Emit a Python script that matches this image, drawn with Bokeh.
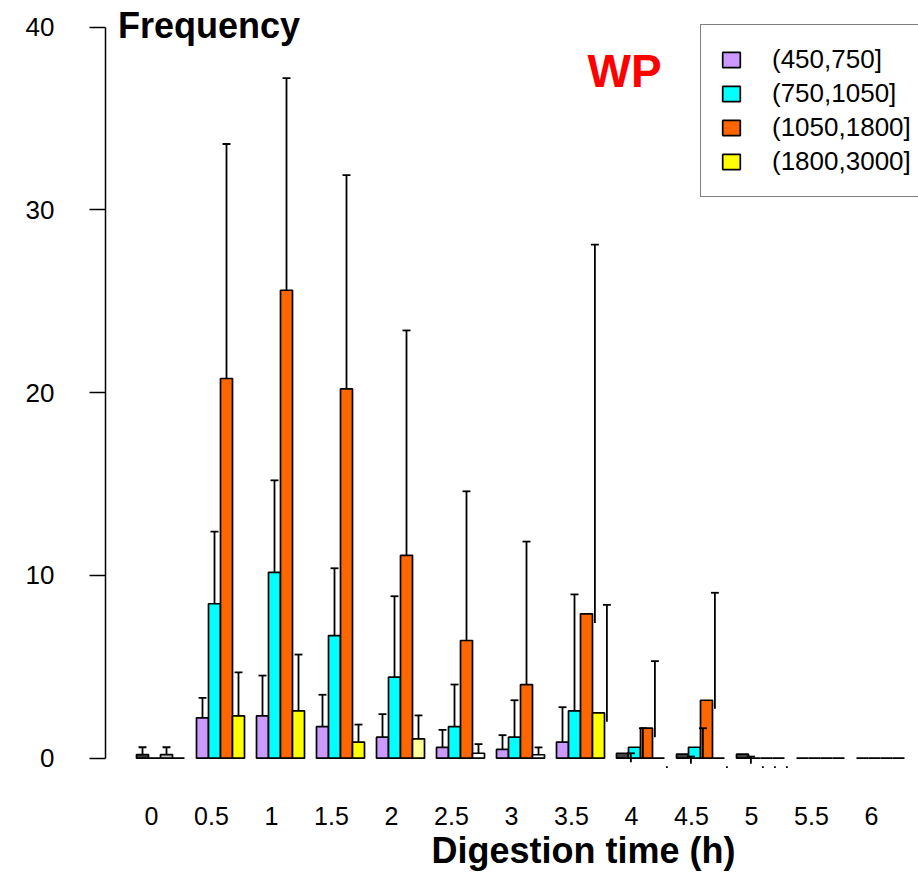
from bokeh.plotting import figure
from bokeh.models import ColumnDataSource, Legend, LegendItem, Label, FixedTicker
from bokeh.embed import file_html
from bokeh.resources import INLINE
from bokeh.core.properties import value

# ---------------- data ----------------
groups = ["0", "0.5", "1", "1.5", "2", "2.5", "3", "3.5", "4", "4.5", "5", "5.5", "6"]
series = ["(450,750]", "(750,1050]", "(1050,1800]", "(1800,3000]"]

mean_450 = [0.2, 2.21, 2.32, 1.73, 1.15, 0.59, 0.48, 0.88, 0.27, 0.22, 0.22, 0, 0]
mean_750 = [0, 8.45, 10.17, 6.71, 4.43, 1.73, 1.15, 2.59, 0.6, 0.6, 0, 0, 0]
mean_1050 = [0.2, 20.77, 25.6, 20.2, 11.1, 6.44, 4.03, 7.9, 1.64, 3.17, 0, 0, 0]
mean_1800 = [0, 2.32, 2.59, 0.88, 1.06, 0.27, 0.19, 2.48, 0, 0, 0, 0, 0]

upper_450 = [0.6, 3.30, 4.52, 3.47, 2.41, 1.55, 1.26, 2.79, 0.27, 0.09, 0.09, None, None]
upper_750 = [None, 12.4, 15.2, 10.39, 8.86, 4.03, 3.17, 8.96, 1.64, 1.64, -0.44, None, None]
upper_1050 = [0.6, 33.6, 37.2, 31.9, 23.4, 14.6, 11.85, 28.1, 5.31, 9.05, -0.44, None, None]
upper_1800 = [None, 4.70, 5.67, 1.84, 2.34, 0.77, 0.59, 8.39, -0.44, -0.44, -0.44, None, None]

lower_450 = [None] * 8 + [-0.22, -0.31, -0.30, None, None]
lower_750 = [None] * 8 + [0, 0, -0.54, None, None]
lower_1050 = [None] * 7 + [7.39, 1.15, 2.7, -0.54, None, None]
lower_1800 = [None] * 7 + [1.99, -0.54, -0.54, -0.54, None, None]

y_ticks = [0, 10, 20, 30, 40]

means = [mean_450, mean_750, mean_1050, mean_1800]
uppers = [upper_450, upper_750, upper_1050, upper_1800]
lowers = [lower_450, lower_750, lower_1050, lower_1800]

# ---------------- style ----------------
base_colors = ["#CC99FF", "#00FFFF", "#FF6600", "#FFFF00"]
fill_override = {(0, 0): "#404040", (2, 0): "#C0C0C0", (3, 4): "#FFFF99",
                 (3, 5): "#FFFFFF", (3, 6): "#FFFFFF",
                 (0, 8): "#404040", (0, 9): "#404040", (0, 10): "#404040"}
FONT = "Liberation Sans"

W, H = 918, 872
LEFT = 105

# pixel helpers (picture pixels -> data)
def px_x(px):
    return (px - 136.0) / 12.0

def px_y(py):
    return (757.7 - py) / 18.28

p = figure(frame_width=W - LEFT, frame_height=H, output_backend="svg", toolbar_location=None,
           x_range=(px_x(LEFT), px_x(W)), y_range=(px_y(H), px_y(0)),
           min_border_left=LEFT, min_border_right=0, min_border_top=0, min_border_bottom=0,
           x_axis_location=None)
p.outline_line_color = None
p.xgrid.visible = False
p.ygrid.visible = False
p.background_fill_color = "white"
p.border_fill_color = "white"

yax = p.yaxis[0]
yax.bounds = (0, 40)
yax.ticker = FixedTicker(ticks=y_ticks)
yax.minor_tick_line_color = None
yax.major_tick_in = 0
yax.major_tick_out = 16
yax.major_tick_line_width = 1.5
yax.axis_line_width = 1.5
yax.major_label_standoff = 35
yax.major_label_text_font = FONT
yax.major_label_text_font_size = "26px"
yax.major_label_text_color = "black"

renderers = []
for s in range(4):
    xs, tops, fills = [], [], []
    for g in range(len(groups)):
        xs.append(5 * g + s + 0.5)
        tops.append(means[s][g])
        fills.append(fill_override.get((s, g), base_colors[s]))
    src = ColumnDataSource(dict(x=xs, top=tops, fill=fills))
    r = p.vbar(x="x", top="top", bottom=0, width=1.0, source=src,
               fill_color="fill", line_color="black", line_width=1.7)
    renderers.append(r)

# error bars
sx0, sy0, sy1 = [], [], []
cx0, cx1, cy = [], [], []
for s in range(4):
    for g in range(len(groups)):
        hi = uppers[s][g]
        if hi is None:
            continue
        lo = lowers[s][g] if lowers[s][g] is not None else means[s][g]
        shift = 0.0
        if g >= 8 or (g == 7 and s >= 2):
            shift = 0.7
        x = 5 * g + s + 0.5 + shift
        sx0.append(x); sy0.append(lo); sy1.append(hi)
        if hi - lo > 0.2:
            cx0.append(x - 0.33); cx1.append(x + 0.33); cy.append(hi)
p.segment(x0=sx0, y0=sy0, x1=sx0, y1=sy1, line_color="black", line_width=1.8)
p.segment(x0=cx0, y0=cy, x1=cx1, y1=cy, line_color="black", line_width=1.8)

# x tick labels
p.text(x=[5 * g + 1.25 for g in range(len(groups))], y=[px_y(815.5)] * len(groups),
       text=groups, text_font=value(FONT), text_font_size="25px",
       text_align="center", text_baseline="middle", text_color="black")

p.add_layout(Label(x=px_x(117.5), y=px_y(25), text="Frequency", text_font=FONT,
                   text_font_size="36px", text_font_style="bold", text_color="black",
                   text_baseline="alphabetic"))
p.add_layout(Label(x=px_x(587), y=px_y(70), text="WP", text_font=FONT,
                   text_font_size="46px", text_font_style="bold", text_color="#FF0000",
                   text_baseline="alphabetic"))
p.add_layout(Label(x=px_x(431), y=px_y(850), text="Digestion time (h)", text_font=FONT,
                   text_font_size="36px", text_font_style="bold", text_color="black",
                   text_baseline="alphabetic"))

legend = Legend(items=[LegendItem(label=series[s], renderers=[renderers[s]], index=2) for s in range(4)],
                location=(700 - LEFT, H - 197), padding=19, spacing=3,
                glyph_width=22, glyph_height=19, label_height=25, label_standoff=30,
                label_text_font=FONT, label_text_font_size="26px", label_text_color="black",
                border_line_color="black", border_line_width=1.8,
                background_fill_color="white", background_fill_alpha=1.0, margin=0)
p.add_layout(legend)

open("out.html", "w").write(file_html(p, INLINE))
